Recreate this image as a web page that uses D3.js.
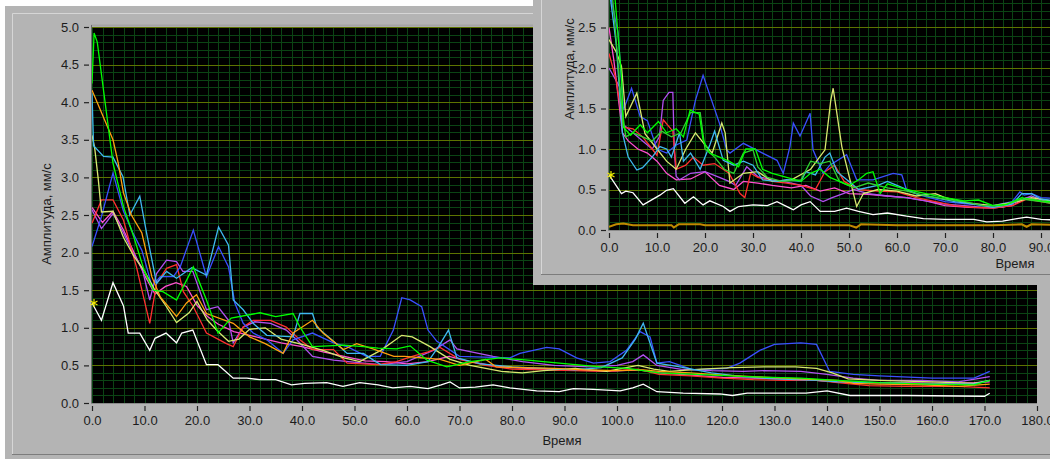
<!DOCTYPE html>
<html>
<head>
<meta charset="utf-8">
<script src="https://cdn.jsdelivr.net/npm/d3@7"></script>
<style>
  body { margin: 0; background: #fff; }
  svg { display: block; font-family: "Liberation Sans", Arial, sans-serif; }
</style>
</head>
<body>
<svg id="chart" width="1050" height="459"></svg>
<script>
// ---- main chart data: [time, amplitude] ----
const mainWhite = [[0,1.33],[1.8,1.1],[4,1.6],[6,1.29],[6.9,0.93],[9.1,0.93],[11,0.7],[12,0.86],[14.1,0.93],[16.1,0.8],[17.1,0.93],[19.2,0.97],[21.8,0.51],[24,0.51],[26.9,0.33],[29.5,0.33],[32,0.31],[35,0.31],[38,0.24],[40.5,0.26],[44.7,0.27],[47.8,0.22],[51,0.27],[54.5,0.24],[57.3,0.2],[60.6,0.22],[64,0.19],[66.5,0.24],[68.2,0.28],[70,0.2],[73,0.21],[76.4,0.24],[79.6,0.2],[84.7,0.16],[89,0.15],[91.7,0.19],[95.5,0.18],[100.6,0.16],[103,0.2],[105,0.25],[107.6,0.15],[112.6,0.13],[119.6,0.12],[122,0.1],[124.8,0.13],[136,0.13],[140,0.16],[144.4,0.1],[155,0.1],[170,0.09],[171,0.13]]
const mainGreen = [[0,4.25],[0.4,4.92],[1,4.8],[4,3.19],[6,2.61],[8,2.2],[10,1.75],[11.7,1.5],[13.5,1.48],[16.1,1.37],[19.3,1.81],[21.8,1.37],[24,0.93],[26.5,1.13],[32,1.2],[35,1.15],[38.3,1.19],[39.6,1.01],[42,0.75],[47.9,0.77],[51.7,0.75],[54.5,0.73],[58,0.72],[60.6,0.76],[63.8,0.57],[67.6,0.48],[72,0.55],[77.7,0.6],[83,0.57],[89,0.53],[96.8,0.48],[102,0.46],[108,0.4],[115,0.38],[125,0.35],[135,0.33],[142,0.3],[150,0.27],[160,0.25],[168,0.24],[171,0.3]]
const mainOrange = [[0,4.16],[4,3.5],[5,3.19],[6,2.79],[7.5,2.5],[9.5,2.26],[11.4,1.68],[13,1.41],[16.1,1.15],[18,1.33],[19.9,1.44],[21.8,1.19],[26.9,1.06],[30,0.88],[33,0.79],[36.4,0.66],[38.3,0.93],[42,1.1],[44,0.93],[47.9,0.71],[50.4,0.79],[53.5,0.72],[57.5,0.62],[59.5,0.62],[63,0.6],[66.3,0.58],[70,0.5],[75,0.58],[77,0.48],[82,0.47],[88,0.46],[94,0.44],[100,0.43],[105,0.44],[108,0.42],[114,0.4],[120,0.37],[126,0.35],[132,0.33],[138,0.31],[142,0.3],[145,0.26],[150,0.25],[158,0.24],[165,0.22],[171,0.25]]
const mainLightBlue = [[0,4.12],[0.3,3.42],[2.2,3.28],[4,3.27],[5.9,3.01],[7.2,2.5],[9.1,2.75],[10.4,2.26],[12.3,1.59],[14.2,1.75],[16.1,1.66],[19,1.8],[21.8,1.7],[24.1,2.34],[26,2.1],[26.9,1.37],[28.8,1.24],[30.7,1.06],[33.3,0.9],[38.3,0.88],[39.6,1.19],[42,1.19],[42.8,1.01],[46,0.82],[48.6,0.66],[51.7,0.66],[53.6,0.57],[55,0.51],[60,0.5],[64,0.55],[66,0.75],[67.9,0.97],[69.5,0.6],[74,0.52],[80,0.48],[86,0.46],[92,0.44],[97,0.47],[101,0.6],[103.5,0.85],[105,1.06],[107.6,0.53],[112,0.48],[118,0.4],[124,0.35],[130,0.32],[138,0.3],[142,0.28],[150,0.27],[160,0.25],[168,0.25],[171,0.3]]
const mainPaleYellow = [[0,3.56],[0.5,3.4],[1.2,2.97],[1.8,2.54],[4,2.55],[6,2.2],[8,1.95],[10,1.75],[12,1.5],[14,1.3],[16.1,1.07],[18.5,1.2],[20,1.35],[22,1.1],[24,0.95],[26,0.82],[28,0.85],[30,0.98],[33,1.0],[36,0.85],[40,0.78],[44,0.7],[48,0.6],[51,0.55],[55,0.7],[59,0.9],[61,0.88],[64.4,0.75],[68.2,0.58],[72,0.5],[78,0.42],[82,0.4],[86,0.43],[92,0.46],[98,0.42],[104,0.5],[107,0.45],[110,0.42],[116,0.45],[122,0.47],[128,0.48],[134,0.48],[138,0.46],[141,0.4],[144,0.32],[150,0.3],[160,0.28],[168,0.26],[171,0.3]]
const mainBlue = [[0,2.08],[1.8,2.48],[4,3.06],[6,2.55],[7.8,2.26],[9.5,2.03],[10.4,1.81],[11.4,1.55],[13,1.68],[15.5,1.68],[16.8,1.81],[19.3,2.3],[21.8,1.68],[24.1,2.08],[26,1.81],[27.2,1.33],[28.8,1.06],[30.7,0.93],[33.3,0.84],[36.4,0.66],[38.3,0.84],[42,0.93],[46,0.8],[48.6,0.75],[52.3,0.62],[54.9,0.62],[57.4,0.97],[59,1.4],[60.6,1.37],[62.8,1.28],[64,0.97],[65.7,0.82],[70,0.62],[79.6,0.6],[81.5,0.66],[86.6,0.74],[89,0.72],[92.3,0.6],[95.5,0.53],[98.7,0.55],[101.8,0.7],[104.4,0.95],[106.3,0.88],[107.6,0.53],[110,0.55],[114.5,0.44],[120.9,0.46],[123.4,0.53],[127.2,0.7],[130,0.78],[135,0.8],[138,0.78],[140.5,0.42],[145,0.38],[150,0.36],[160,0.33],[168,0.33],[171,0.42]]
const mainRed = [[0,2.39],[1.8,2.7],[4,2.7],[6,2.43],[8.5,1.8],[11,1.06],[12.3,1.59],[14.2,1.79],[16.1,1.84],[17.4,1.48],[19.3,1.28],[21.8,0.93],[25.6,0.79],[26.9,0.75],[28.8,1.01],[30.7,1.1],[34,1.1],[37,1.01],[39.6,0.84],[42,0.71],[46,0.71],[48.6,0.53],[54.5,0.51],[58,0.55],[61,0.62],[64,0.68],[66.3,0.74],[70,0.58],[75,0.5],[80,0.45],[86,0.44],[92,0.43],[98,0.42],[104,0.45],[108,0.38],[114,0.36],[120,0.33],[126,0.31],[132,0.3],[138,0.3],[142,0.27],[148,0.23],[155,0.22],[165,0.22],[171,0.2]]
const mainViolet = [[0,2.57],[1.8,2.32],[4,2.52],[6,2.26],[7.8,2.0],[9.5,1.8],[11,1.37],[12.3,1.72],[14.2,1.9],[16.1,1.88],[17.3,1.75],[19.2,1.75],[21.8,1.24],[24,1.28],[26,1.1],[26.9,0.8],[28.8,1.01],[31,1.08],[34,1.06],[37,0.97],[39,0.84],[42,0.62],[46,0.57],[51.7,0.53],[55,0.51],[60,0.55],[65,0.7],[68.2,0.84],[69.5,0.72],[76.4,0.62],[82,0.55],[88,0.5],[95,0.48],[100,0.5],[103,0.55],[105,0.64],[107.6,0.5],[112,0.45],[118,0.43],[124,0.42],[128,0.43],[135,0.42],[140,0.38],[145,0.33],[150,0.3],[158,0.3],[165,0.28],[171,0.35]]
const mainPink = [[0,2.6],[2,2.4],[4,2.55],[6,2.3],[8,2.0],[10,1.7],[12,1.45],[14,1.55],[16,1.6],[18,1.55],[20,1.3],[22,1.15],[24,1.05],[27,0.95],[30,0.9],[33,0.85],[36,0.8],[40,0.75],[44,0.68],[48,0.62],[52,0.56],[56,0.55],[60,0.52],[64,0.55],[68,0.62],[72,0.55],[76,0.5],[80,0.47],[86,0.45],[92,0.44],[98,0.42],[104,0.44],[108,0.4],[114,0.37],[120,0.34],[126,0.33],[132,0.32],[138,0.3],[142,0.28],[148,0.27],[155,0.27],[162,0.26],[168,0.27],[171,0.28]]

// ---- inset chart data ----
const insetWhite = [[0,0.68],[2.6,0.45],[3.5,0.48],[5,0.46],[7.1,0.31],[10.6,0.43],[12,0.49],[13.4,0.51],[15.8,0.33],[17.6,0.41],[19.6,0.31],[21,0.36],[23.8,0.29],[25.2,0.23],[27,0.29],[30,0.31],[33,0.3],[35,0.35],[37.7,0.27],[38.4,0.25],[40,0.31],[41.9,0.35],[44,0.23],[47,0.23],[49.5,0.27],[52,0.23],[55,0.19],[58,0.21],[62,0.17],[65.5,0.14],[70,0.13],[76,0.13],[78.7,0.1],[82,0.11],[85,0.14],[87,0.16],[90,0.13],[95,0.12]]
const insetBrown = [[0,0.04],[1.5,0.07],[3,0.08],[5,0.06],[13,0.06],[13.5,0.03],[14.5,0.07],[19,0.07],[20,0.06],[50,0.06],[51.5,0.03],[52.5,0.07],[60,0.06],[80,0.06],[86,0.07],[87,0.04],[88,0.07],[95,0.06]]
const insetBlue = [[0,3.2],[0.5,2.84],[1.9,2.43],[3,1.48],[4.7,1.75],[6.5,1.4],[8,1.35],[10,1.0],[12,0.95],[14,1.05],[16.2,1.11],[18,1.6],[19.6,1.91],[23,1.32],[24.5,0.99],[25.2,0.95],[28,1.07],[32,0.95],[35,0.86],[36.3,0.7],[37.7,1.03],[38.4,1.32],[39.8,1.16],[41.9,1.44],[42.5,0.99],[44.6,0.7],[46,0.8],[49.5,0.93],[51.6,0.62],[55,0.62],[59.2,0.7],[61,0.68],[62,0.49],[64.8,0.43],[70,0.35],[75,0.32],[80,0.3],[84,0.35],[85.6,0.47],[86.5,0.43],[88,0.45],[90,0.4],[95,0.38]]
const insetPaleYellow = [[0,2.35],[1.5,2.2],[2.6,2.02],[3.5,1.4],[5.8,1.69],[7.5,1.19],[10,1.0],[12,0.85],[14,0.75],[16,1.0],[18,1.2],[20,1.05],[21.5,0.95],[23.5,1.32],[24.2,1.2],[25.2,0.58],[28,0.7],[31,0.72],[34,0.6],[38,0.62],[42,0.75],[45,0.99],[46.2,1.6],[46.7,1.75],[48.5,1.03],[50.5,0.55],[51.6,0.29],[53,0.45],[56,0.5],[60,0.48],[64,0.42],[68,0.45],[70,0.4],[75,0.33],[80,0.3],[85,0.35],[88,0.4],[92,0.36]]
const insetGreen = [[0,3.5],[1.2,2.9],[2.6,1.89],[3,1.27],[4.5,1.17],[6.5,1.3],[8,1.2],[10.3,1.34],[12,1.2],[14,1.25],[15.5,1.15],[16.9,1.48],[18.8,1.43],[19.6,1.11],[21,0.95],[23,0.9],[25,0.85],[27,0.78],[28.5,1.0],[30.5,1.0],[32,0.75],[34,0.7],[37,0.65],[40,0.6],[42,0.7],[44,0.75],[46,0.65],[48,0.6],[50,0.55],[52,0.62],[53.7,0.7],[55,0.72],[56.5,0.45],[58,0.57],[62,0.5],[66,0.45],[70,0.4],[74,0.36],[77,0.37],[80,0.3],[83,0.32],[86,0.4],[90,0.36],[95,0.33]]
const insetGreen2 = [[0,3.3],[1,2.7],[2.5,1.6],[3.5,1.15],[5,1.2],[7,1.15],[9,1.1],[11,1.22],[13,1.15],[15,1.2],[17,1.45],[19,1.45],[20,1.0],[22,0.9],[24,0.75],[26,0.7],[28,0.95],[30,0.99],[31,0.78],[33,0.65],[36,0.6],[40,0.62],[42,0.85],[44,0.82],[46,0.85],[48,0.6],[51,0.52],[54,0.58],[58,0.52],[62,0.48],[66,0.42],[70,0.38],[74,0.35],[78,0.3],[82,0.3],[86,0.38],[90,0.35],[95,0.3]]
const insetRed = [[0,2.18],[1.5,1.85],[3,1.27],[5,1.25],[7,1.15],[9,1.0],[10,0.92],[11.3,1.36],[13.3,1.22],[14,0.75],[16,0.8],[17.6,0.9],[19.6,0.8],[22,0.82],[25,0.7],[27.3,0.45],[28.3,0.4],[29.5,0.7],[31,0.65],[34,0.6],[37,0.58],[40,0.55],[43,0.5],[45,0.72],[47,0.8],[49,0.6],[52,0.5],[56,0.48],[60,0.47],[64,0.4],[68,0.35],[72,0.3],[76,0.28],[80,0.27],[84,0.3],[87,0.38],[90,0.35],[95,0.3]]
const insetViolet = [[0,2.0],[2.2,1.77],[3,1.3],[5,1.2],[7,1.1],[9,1.0],[10.5,1.15],[11.3,1.6],[12.5,1.7],[13.3,1.7],[13.6,0.99],[14,0.66],[14.7,0.62],[17,0.7],[20,0.72],[23,0.65],[25,0.6],[26.4,0.55],[28.7,0.78],[31,0.66],[34,0.62],[36,0.6],[38,0.58],[40,0.55],[42,0.42],[44.6,0.35],[46.5,0.4],[48.8,0.45],[51,0.5],[54,0.45],[58,0.42],[62,0.4],[66,0.36],[70,0.32],[74,0.3],[78,0.28],[82,0.28],[85,0.35],[88,0.42],[92,0.33]]
const insetLightBlue = [[0,3.0],[1.5,2.3],[2.8,1.2],[4,0.9],[5.8,0.74],[7,0.77],[9,0.9],[10.6,1.03],[12,1.0],[13,0.9],[14.7,1.2],[15.5,0.85],[17,0.95],[19,0.75],[21,1.05],[22,1.22],[23.8,0.86],[26,0.8],[28,0.85],[30,0.8],[32,0.62],[35,0.6],[37,0.62],[40,0.6],[41,0.72],[43,0.68],[45,0.9],[46,0.95],[47.5,0.72],[50,0.6],[52,0.5],[56,0.55],[58,0.6],[60,0.55],[64,0.45],[68,0.4],[72,0.35],[76,0.32],[80,0.28],[84,0.32],[86,0.45],[88,0.45],[90,0.38],[95,0.35]]
const insetPink = [[0,2.5],[1,2.1],[2.8,1.2],[4,1.1],[6,1.0],[8,0.95],[10,0.85],[12,0.7],[14,0.62],[17,0.63],[20,0.72],[23,0.55],[26,0.5],[28,0.6],[31,0.58],[34,0.55],[38,0.52],[41,0.55],[44,0.48],[47,0.52],[50,0.45],[54,0.44],[58,0.42],[62,0.4],[66,0.36],[70,0.3],[75,0.28],[80,0.27],[84,0.3],[87,0.4],[90,0.36],[95,0.32]]

const yTickValues = [0, 0.5, 1, 1.5, 2, 2.5, 3, 3.5, 4, 4.5, 5]
const xTickValues = d3.range(0, 181, 10)
const xTitle = 'Время'
const yTitle = 'Амплитуда, мм/с'

class AmplitudeChart {
    constructor(_config, _series, _marker) {
        this.config = {
            parentElement: _config.parentElement,
            left: _config.left,
            bottom: _config.bottom,
            pxPerX: _config.pxPerX,
            pxPerY: _config.pxPerY,
            xMax: _config.xMax,
            yMax: _config.yMax,
            yLabelMax: _config.yLabelMax,
            xTitlePos: _config.xTitlePos,
            yTitlePos: _config.yTitlePos,
            id: _config.id
        }
        this.series = _series
        this.marker = _marker
        this.initVis()
    }

    initVis() {
        let vis = this
        let c = vis.config

        vis.width = c.xMax * c.pxPerX
        vis.height = c.yMax * c.pxPerY
        vis.top = c.bottom - vis.height

        vis.xScale = d3.scaleLinear().domain([0, c.xMax]).range([c.left, c.left + vis.width])
        vis.yScale = d3.scaleLinear().domain([0, c.yMax]).range([c.bottom, vis.top])

        vis.g = d3.select(c.parentElement).append('g')

        vis.g.append('clipPath').attr('id', 'clip-' + c.id)
            .append('rect')
            .attr('x', c.left).attr('y', vis.top)
            .attr('width', vis.width).attr('height', vis.height)

        vis.g.append('rect')
            .attr('x', c.left).attr('y', vis.top)
            .attr('width', vis.width).attr('height', vis.height)
            .attr('fill', '#000')

        vis.grid = vis.g.append('g').attr('clip-path', `url(#clip-${c.id})`)
        vis.lines = vis.g.append('g').attr('clip-path', `url(#clip-${c.id})`)

        // plot frame
        vis.g.append('line')
            .attr('x1', c.left - 1).attr('x2', c.left + vis.width)
            .attr('y1', vis.top - 1.5).attr('y2', vis.top - 1.5)
            .attr('stroke', '#a4a4a4').attr('stroke-width', 2)
        vis.g.append('line')
            .attr('x1', c.left - 0.5).attr('x2', c.left - 0.5)
            .attr('y1', vis.top - 2).attr('y2', c.bottom + 1)
            .attr('stroke', '#6a6a6a')
        vis.g.append('line')
            .attr('x1', c.left - 1).attr('x2', c.left + vis.width)
            .attr('y1', c.bottom + 0.5).attr('y2', c.bottom + 0.5)
            .attr('stroke', '#8a8a8a')

        vis.updateVis()
    }

    updateVis() {
        let vis = this
        let c = vis.config

        vis.minorX = d3.range(0, c.xMax + 0.01, 2)
        vis.minorY = d3.range(1, Math.round(c.yMax * 10)).map(d => d / 10).filter(d => Math.round(d * 10) % 5 != 0)
        vis.majorY = d3.range(0.5, c.yMax + 0.01, 0.5)

        vis.renderVis()
    }

    renderVis() {
        let vis = this
        let c = vis.config

        vis.grid.selectAll('.vgrid')
            .data(vis.minorX)
            .join('line')
                .attr('class', 'vgrid')
                .attr('x1', d => Math.round(vis.xScale(d)) + 0.5)
                .attr('x2', d => Math.round(vis.xScale(d)) + 0.5)
                .attr('y1', vis.top).attr('y2', c.bottom)
                .attr('stroke', '#0b4414')

        vis.grid.selectAll('.hgrid')
            .data(vis.minorY)
            .join('line')
                .attr('class', 'hgrid')
                .attr('x1', c.left).attr('x2', c.left + vis.width)
                .attr('y1', d => Math.round(vis.yScale(d)) + 0.5)
                .attr('y2', d => Math.round(vis.yScale(d)) + 0.5)
                .attr('stroke', '#0b4414')

        vis.grid.selectAll('.hmajor')
            .data(vis.majorY)
            .join('line')
                .attr('class', 'hmajor')
                .attr('x1', c.left).attr('x2', c.left + vis.width)
                .attr('y1', d => Math.round(vis.yScale(d)) + 0.5)
                .attr('y2', d => Math.round(vis.yScale(d)) + 0.5)
                .attr('stroke', '#5d7300')

        let line = d3.line()
            .x(d => vis.xScale(d[0]))
            .y(d => vis.yScale(d[1]))

        vis.lines.selectAll('.trace')
            .data(vis.series)
            .join('path')
                .attr('class', 'trace')
                .attr('d', d => line(d.values))
                .attr('fill', 'none')
                .attr('stroke', d => d.color)
                .attr('stroke-width', d => d.width || 1.3)

        // yellow cursor mark at the first point, not clipped
        vis.g.append('path')
            .attr('transform', `translate(${vis.xScale(vis.marker[0]) + 2},${vis.yScale(vis.marker[1])})`)
            .attr('d', d3.symbol().type(d3.symbolAsterisk).size(45)())
            .attr('fill', 'none')
            .attr('stroke', '#f0e800')
            .attr('stroke-width', 1.2)

        // axes
        let yAxis = d3.axisLeft(vis.yScale)
            .tickValues(yTickValues.filter(d => d <= c.yLabelMax))
            .tickSize(5).tickPadding(5)
            .tickFormat(d3.format('.1f'))
        let xAxis = d3.axisBottom(vis.xScale)
            .tickValues(xTickValues.filter(d => d <= c.xMax))
            .tickSize(5).tickPadding(5)
            .tickFormat(d3.format('.1f'))

        let yAxisG = vis.g.append('g')
            .attr('transform', `translate(${c.left - 3},0)`)
            .call(yAxis)
        let xAxisG = vis.g.append('g')
            .attr('transform', `translate(0,${c.bottom + 3})`)
            .call(xAxis)

        for (let ax of [yAxisG, xAxisG]) {
            ax.select('.domain').remove()
            ax.selectAll('line').attr('stroke', '#222').attr('stroke-width', 1.2)
            ax.selectAll('text')
                .attr('fill', '#1c1c1c')
                .style('font-size', '13px')
                .style('font-family', '"Liberation Sans", Arial, sans-serif')
        }

        vis.g.append('text')
            .attr('x', c.xTitlePos[0]).attr('y', c.xTitlePos[1])
            .attr('text-anchor', 'middle')
            .attr('fill', '#1c1c1c')
            .style('font-size', '13px')
            .text(xTitle)

        vis.g.append('text')
            .attr('transform', `translate(${c.yTitlePos[0]},${c.yTitlePos[1]}) rotate(-90)`)
            .attr('text-anchor', 'middle')
            .attr('fill', '#1c1c1c')
            .style('font-size', '13px')
            .text(yTitle)
    }
}

const svg = d3.select('#chart')
svg.append('rect').attr('width', 1050).attr('height', 459).attr('fill', '#fff')

// main window
svg.append('rect').attr('x', 5).attr('y', 6).attr('width', 1060).attr('height', 460).attr('fill', '#b4b4b4')
svg.append('path').attr('d', 'M12.5,455 V13.5 H1060').attr('fill', 'none').attr('stroke', '#d6d6d6')
svg.append('path').attr('d', 'M12,454.5 H1060').attr('fill', 'none').attr('stroke', '#7c7c7c')

const mainChart = new AmplitudeChart({
    parentElement: '#chart', id: 'main',
    left: 92, bottom: 403, pxPerX: 5.25, pxPerY: 75.2,
    xMax: 180, yMax: 5, yLabelMax: 5,
    xTitlePos: [562, 445], yTitlePos: [51, 214]
}, [
    {color: '#ff50d0', values: mainPink},
    {color: '#b050f0', values: mainViolet},
    {color: '#ff3030', values: mainRed},
    {color: '#3a50ff', values: mainBlue},
    {color: '#d8e870', values: mainPaleYellow},
    {color: '#40b8f0', values: mainLightBlue},
    {color: '#ffa010', values: mainOrange},
    {color: '#00ff00', values: mainGreen},
    {color: '#ffffff', values: mainWhite}
], [0, 1.33])

// inset window on top
svg.append('rect').attr('x', 533).attr('y', -5).attr('width', 530).attr('height', 290).attr('fill', '#b4b4b4')
svg.append('path').attr('d', 'M541.5,274 V-5').attr('fill', 'none').attr('stroke', '#d6d6d6')
svg.append('path').attr('d', 'M541,274.5 H1060').attr('fill', 'none').attr('stroke', '#7c7c7c')

const insetChart = new AmplitudeChart({
    parentElement: '#chart', id: 'inset',
    left: 609, bottom: 230, pxPerX: 4.8, pxPerY: 81,
    xMax: 100, yMax: 3, yLabelMax: 2.5,
    xTitlePos: [1015, 268], yTitlePos: [574, 69]
}, [
    {color: '#ff50d0', values: insetPink},
    {color: '#b050f0', values: insetViolet},
    {color: '#ff3030', values: insetRed},
    {color: '#3a50ff', values: insetBlue},
    {color: '#d8e870', values: insetPaleYellow},
    {color: '#40b8f0', values: insetLightBlue},
    {color: '#30d030', values: insetGreen2},
    {color: '#00ff00', values: insetGreen},
    {color: '#ffffff', values: insetWhite},
    {color: '#c08a00', values: insetBrown, width: 2}
], [0, 0.68])
</script>
</body>
</html>
